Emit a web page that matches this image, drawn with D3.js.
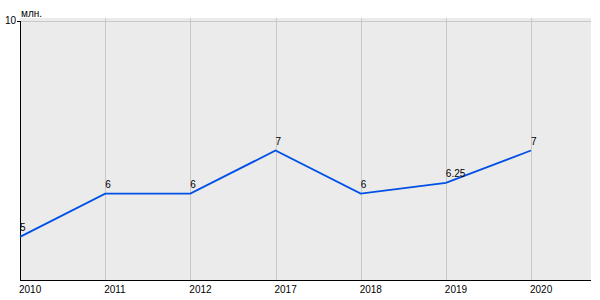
<!DOCTYPE html>
<html><head><meta charset="utf-8">
<script src="https://cdn.jsdelivr.net/npm/d3@7"></script>
<style>body{margin:0;background:#fff}svg{display:block}text{font-family:"Liberation Sans",Arial,sans-serif}</style>
</head><body>
<svg id="c" width="600" height="300"></svg>
<script>
const categories = ["2010","2011","2012","2017","2018","2019","2020"];
const values = [5, 6, 6, 7, 6, 6.25, 7];
const valueLabels = ["5","6","6","7","6","6.25","7"];
const yTicks = [10];
const unit = "млн.";

(function(){
const svg = d3.select("#c");
const pLeft = 20, pRight = 591, pTop = 21, pBottom = 280;
const x = d3.scalePoint().domain(categories).range([pLeft, 531]);
const y = d3.scaleLinear().domain([4, 10]).range([pBottom, pTop]);

svg.append("rect").attr("x", pLeft).attr("y", 18).attr("width", pRight-pLeft).attr("height", pBottom-18).attr("fill", "#ebebeb");
svg.append("line").attr("x1", pLeft).attr("x2", pRight).attr("y1", y(10)+0.5).attr("y2", y(10)+0.5).attr("stroke", "#c8c8c8").attr("stroke-width", 1);
svg.selectAll(".vg").data(categories.slice(1)).enter().append("line")
  .attr("x1", d => Math.round(x(d))+0.5).attr("x2", d => Math.round(x(d))+0.5)
  .attr("y1", 18).attr("y2", pBottom).attr("stroke", "#c8c8c8");

svg.append("line").attr("x1", pLeft+0.5).attr("x2", pLeft+0.5).attr("y1", y(10)).attr("y2", pBottom+1).attr("stroke", "#000");
svg.append("line").attr("x1", pLeft).attr("x2", pRight).attr("y1", pBottom+0.5).attr("y2", pBottom+0.5).attr("stroke", "#000");
yTicks.forEach(t => {
  svg.append("line").attr("x1", pLeft-3).attr("x2", pLeft).attr("y1", y(t)+0.5).attr("y2", y(t)+0.5).attr("stroke", "#000");
  svg.append("text").attr("x", 16).attr("y", y(t)+3).attr("text-anchor", "end").attr("font-size", 10).text(t);
});
svg.append("text").attr("x", 21).attr("y", 17).attr("font-size", 10).text(unit);

svg.selectAll(".xl").data(categories).enter().append("text")
  .attr("x", d => x(d)-1).attr("y", 293).attr("font-size", 10).text(d => d);

const line = d3.line().x((d,i) => x(categories[i])).y(d => y(d));
svg.append("path").datum(values).attr("d", line).attr("fill", "none").attr("stroke", "#0050e6").attr("stroke-width", 1.8);

svg.selectAll(".vl").data(values).enter().append("text")
  .attr("x", (d,i) => x(categories[i])).attr("y", d => y(d)-6).attr("font-size", 10)
  .text((d,i) => valueLabels[i]);
})();
</script>
</body></html>
